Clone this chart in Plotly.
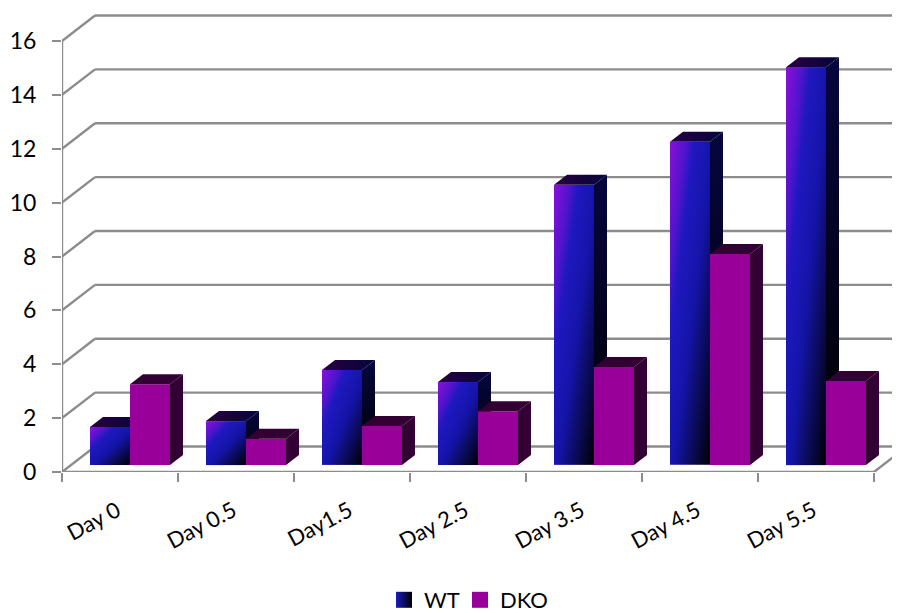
import numpy as np
import plotly.graph_objects as go

categories = ["Day 0", "Day 0.5", "Day1.5", "Day 2.5", "Day 3.5", "Day 4.5", "Day 5.5"]
wt_values = [1.41, 1.63, 3.53, 3.08, 10.4, 12.0, 14.77]
dko_values = [3.0, 0.97, 1.45, 2.0, 3.64, 7.83, 3.12]
y_ticks = list(range(0, 18, 2))

# The page body adds an 8 px margin around the figure
W, H = 892, 613
L, R, T, B = 54, 0, 0, 149
PX_X = 116.0          # pixels per category
PX_Y = 431 / 16       # pixels per unit
def dx(p): return p / PX_X
def dy(p): return p / PX_Y

GRID = "#8c8c8c"
WALL_X, WALL_Y = dx(33), dy(25.5)
BASE_X, BASE_Y = dx(10), dy(7)
BAR_W = dx(40)
D_X, D_Y = dx(13), dy(10)
X0, X1 = -0.5, 6.5
XMAX = X0 + (W - L - R) / PX_X
YMAX = (H - T - B) / PX_Y

WT_SCALE = [[0, "#8a10d8"], [0.2, "#5014cc"], [0.3, "#2018c0"], [0.55, "#1414a8"], [1, "#000000"]]
DKO = "#990099"
DKO_DARK = "#330033"

fig = go.Figure()
shapes = []
line = dict(color=GRID, width=2.4)
for v in y_ticks:
    shapes.append(dict(type="line", layer="below", xref="x", yref="y", x0=X0, y0=v,
                       x1=X0 + WALL_X, y1=v + WALL_Y, line=line))
    shapes.append(dict(type="line", layer="below", xref="x", yref="y", x0=X0 + WALL_X, y0=v + WALL_Y,
                       x1=XMAX, y1=v + WALL_Y, line=line))
shapes.append(dict(type="line", layer="below", xref="x", yref="y", x0=X0, y0=0, x1=X0, y1=16, line=line))
shapes.append(dict(type="line", layer="below", xref="x", yref="y", x0=X0, y0=0, x1=X1, y1=0, line=line))
shapes.append(dict(type="line", layer="below", xref="x", yref="y", x0=X1, y0=0,
                   x1=XMAX, y1=(XMAX - X1) * WALL_Y / WALL_X, line=line))

def poly(xs, ys, **kw):
    fig.add_trace(go.Scatter(x=xs + xs[:1], y=ys + ys[:1], mode="lines", fill="toself",
                             showlegend=False, hoverinfo="skip", **kw))

for i, (a, b) in enumerate(zip(wt_values, dko_values)):
    x_l = i + BASE_X - BAR_W
    x_m = i + BASE_X
    x_r = i + BASE_X + BAR_W
    y_a = BASE_Y + a
    y_b = BASE_Y + b
    # WT front face: diagonal gradient
    nx, ny = 40, max(30, int(a * PX_Y / 2))
    u = (np.arange(nx) + 0.5) / nx
    v = (np.arange(ny) + 0.5) / ny     # 0 at bottom, 1 at top
    z = [[(uu + (1 - vv)) / 2 for uu in u] for vv in v]
    fig.add_trace(go.Heatmap(x=np.linspace(x_l, x_m, nx + 1), y=np.linspace(BASE_Y, y_a, ny + 1), z=z,
                             zmin=0, zmax=1, colorscale=WT_SCALE, showscale=False, hoverinfo="skip"))
    # WT side and top
    poly([x_m, x_m + D_X, x_m + D_X, x_m], [BASE_Y, BASE_Y + D_Y, y_a + D_Y, y_a],
         line=dict(width=0),
         fillgradient=dict(type="vertical", colorscale=[[0, "#000000"], [1, "#06063f"]]))
    poly([x_l, x_m, x_m + D_X, x_l + D_X], [y_a, y_a, y_a + D_Y, y_a + D_Y],
         line=dict(width=0),
         fillgradient=dict(type="horizontal", colorscale=[[0, "#280040"], [1, "#05053c"]]))
    # DKO front, side, top
    poly([x_m, x_r, x_r, x_m], [BASE_Y, BASE_Y, y_b, y_b], line=dict(width=0), fillcolor=DKO)
    poly([x_r, x_r + D_X, x_r + D_X, x_r], [BASE_Y, BASE_Y + D_Y, y_b + D_Y, y_b],
         line=dict(width=0), fillcolor=DKO_DARK)
    poly([x_m, x_r, x_r + D_X, x_m + D_X], [y_b, y_b, y_b + D_Y, y_b + D_Y],
         line=dict(width=0), fillcolor=DKO_DARK)

fig.add_trace(go.Scatter(x=[None], y=[None], name="WT", mode="markers", legend="legend",
                         marker=dict(symbol="square", size=16, color="#1a1abc",
                                     gradient=dict(type="horizontal", color="#000000"))))
fig.add_trace(go.Scatter(x=[None], y=[None], name="DKO", mode="markers", legend="legend2",
                         marker=dict(symbol="square", size=16, color=DKO)))

def legend_at(px):
    return dict(orientation="h", xref="container", yref="container",
                x=(px - 8) / W, xanchor="left", y=1 - (600 - 8) / H, yanchor="middle",
                font=dict(size=22), itemclick=False, itemdoubleclick=False,
                bgcolor="rgba(0,0,0,0)")

fig.update_layout(
    width=W, height=H, autosize=False,
    margin=dict(l=L, r=R, t=T, b=B),
    paper_bgcolor="white", plot_bgcolor="white",
    font=dict(family="Lato", color="#000000"),
    shapes=shapes,
    hovermode=False,
    legend=legend_at(384),
    legend2=legend_at(460),
    xaxis=dict(type="linear", range=[X0, XMAX], showgrid=False, zeroline=False, showline=False,
               tickmode="array", tickvals=list(range(len(categories))), ticktext=categories,
               ticks="", tickangle=-28, tickfont=dict(size=22), ticklabelstandoff=21, ticklabelshift=-3,
               minor=dict(tickmode="array", tickvals=[i - 0.5 for i in range(len(categories) + 1)],
                          ticks="outside", ticklen=9, tickcolor=GRID, tickwidth=2, showgrid=False)),
    yaxis=dict(type="linear", range=[0, YMAX], showgrid=False, zeroline=False, showline=False,
               tickmode="array", tickvals=y_ticks, ticks="outside", ticklen=9, tickcolor=GRID,
               tickwidth=2, tickfont=dict(size=23), ticklabelstandoff=11),
)
fig.write_html("out.html")
